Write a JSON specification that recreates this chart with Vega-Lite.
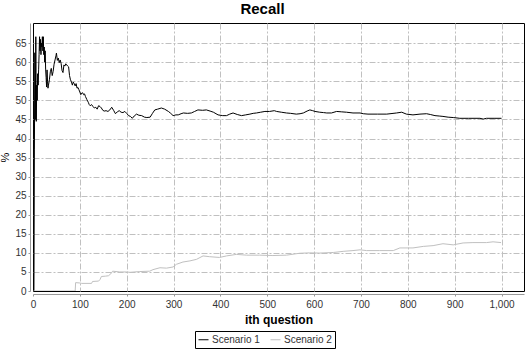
{
  "$schema": "https://vega.github.io/schema/vega-lite/v6.json",
  "autosize": "none",
  "width": 491,
  "height": 268,
  "padding": {"left": 33, "top": 23, "right": 2, "bottom": 59},
  "background": "white",
  "config": {
    "font": "Liberation Sans",
    "view": {"stroke": "black", "strokeWidth": 1},
    "axis": {
      "grid": true,
      "gridColor": "#c0c0c0",
      "gridDash": [6, 2, 2, 2],
      "gridWidth": 1,
      "domainColor": "#999999",
      "tickColor": "#999999",
      "tickSize": 2,
      "labelFontSize": 10,
      "labelColor": "#333333",
      "labelFont": "Liberation Sans",
      "titleFont": "Liberation Sans",
      "titleColor": "black"
    }
  },
  "title": {
    "text": "Recall",
    "fontSize": 15,
    "fontWeight": "bold",
    "font": "Liberation Sans",
    "anchor": "middle",
    "dx": -16,
    "offset": 6,
    "color": "black"
  },
  "data": {
    "values": [
      {"q": 1, "recall": 0, "scenario": "Scenario 1"},
      {"q": 2, "recall": 0, "scenario": "Scenario 1"},
      {"q": 3, "recall": 37, "scenario": "Scenario 1"},
      {"q": 4, "recall": 62.5, "scenario": "Scenario 1"},
      {"q": 5, "recall": 45, "scenario": "Scenario 1"},
      {"q": 6, "recall": 66.7, "scenario": "Scenario 1"},
      {"q": 7, "recall": 44.5, "scenario": "Scenario 1"},
      {"q": 8, "recall": 54, "scenario": "Scenario 1"},
      {"q": 9, "recall": 50, "scenario": "Scenario 1"},
      {"q": 10, "recall": 57, "scenario": "Scenario 1"},
      {"q": 11, "recall": 54, "scenario": "Scenario 1"},
      {"q": 12, "recall": 58, "scenario": "Scenario 1"},
      {"q": 13, "recall": 62, "scenario": "Scenario 1"},
      {"q": 14, "recall": 66.7, "scenario": "Scenario 1"},
      {"q": 15, "recall": 63, "scenario": "Scenario 1"},
      {"q": 16, "recall": 66, "scenario": "Scenario 1"},
      {"q": 17, "recall": 62, "scenario": "Scenario 1"},
      {"q": 18, "recall": 65, "scenario": "Scenario 1"},
      {"q": 19, "recall": 64, "scenario": "Scenario 1"},
      {"q": 20, "recall": 66.7, "scenario": "Scenario 1"},
      {"q": 21, "recall": 63, "scenario": "Scenario 1"},
      {"q": 22, "recall": 66.7, "scenario": "Scenario 1"},
      {"q": 23, "recall": 62, "scenario": "Scenario 1"},
      {"q": 24, "recall": 64, "scenario": "Scenario 1"},
      {"q": 25, "recall": 60, "scenario": "Scenario 1"},
      {"q": 26, "recall": 63, "scenario": "Scenario 1"},
      {"q": 27, "recall": 58, "scenario": "Scenario 1"},
      {"q": 28, "recall": 56, "scenario": "Scenario 1"},
      {"q": 29, "recall": 53.5, "scenario": "Scenario 1"},
      {"q": 30, "recall": 58, "scenario": "Scenario 1"},
      {"q": 31, "recall": 55, "scenario": "Scenario 1"},
      {"q": 32, "recall": 53.2, "scenario": "Scenario 1"},
      {"q": 33, "recall": 54, "scenario": "Scenario 1"},
      {"q": 35, "recall": 55.4, "scenario": "Scenario 1"},
      {"q": 37, "recall": 57.5, "scenario": "Scenario 1"},
      {"q": 39, "recall": 58.4, "scenario": "Scenario 1"},
      {"q": 41, "recall": 56.5, "scenario": "Scenario 1"},
      {"q": 43, "recall": 57.6, "scenario": "Scenario 1"},
      {"q": 45, "recall": 59.5, "scenario": "Scenario 1"},
      {"q": 47, "recall": 60.6, "scenario": "Scenario 1"},
      {"q": 49, "recall": 61.7, "scenario": "Scenario 1"},
      {"q": 50, "recall": 62.4, "scenario": "Scenario 1"},
      {"q": 52, "recall": 60.5, "scenario": "Scenario 1"},
      {"q": 54, "recall": 61.1, "scenario": "Scenario 1"},
      {"q": 56, "recall": 59.9, "scenario": "Scenario 1"},
      {"q": 58, "recall": 60.6, "scenario": "Scenario 1"},
      {"q": 60, "recall": 59.7, "scenario": "Scenario 1"},
      {"q": 62, "recall": 57.8, "scenario": "Scenario 1"},
      {"q": 64, "recall": 57.3, "scenario": "Scenario 1"},
      {"q": 66, "recall": 59.3, "scenario": "Scenario 1"},
      {"q": 68, "recall": 59.0, "scenario": "Scenario 1"},
      {"q": 70, "recall": 59.6, "scenario": "Scenario 1"},
      {"q": 72, "recall": 59.3, "scenario": "Scenario 1"},
      {"q": 74, "recall": 59.0, "scenario": "Scenario 1"},
      {"q": 76, "recall": 58.8, "scenario": "Scenario 1"},
      {"q": 78, "recall": 56.5, "scenario": "Scenario 1"},
      {"q": 80, "recall": 55.4, "scenario": "Scenario 1"},
      {"q": 82, "recall": 54.9, "scenario": "Scenario 1"},
      {"q": 84, "recall": 54.0, "scenario": "Scenario 1"},
      {"q": 86, "recall": 54.8, "scenario": "Scenario 1"},
      {"q": 88, "recall": 54.4, "scenario": "Scenario 1"},
      {"q": 90, "recall": 53.8, "scenario": "Scenario 1"},
      {"q": 92, "recall": 54.4, "scenario": "Scenario 1"},
      {"q": 94, "recall": 53.2, "scenario": "Scenario 1"},
      {"q": 96, "recall": 53.4, "scenario": "Scenario 1"},
      {"q": 98, "recall": 52.8, "scenario": "Scenario 1"},
      {"q": 100, "recall": 52.2, "scenario": "Scenario 1"},
      {"q": 102, "recall": 51.5, "scenario": "Scenario 1"},
      {"q": 104, "recall": 51.9, "scenario": "Scenario 1"},
      {"q": 106, "recall": 52.0, "scenario": "Scenario 1"},
      {"q": 108, "recall": 51.5, "scenario": "Scenario 1"},
      {"q": 110, "recall": 51.7, "scenario": "Scenario 1"},
      {"q": 112, "recall": 51.0, "scenario": "Scenario 1"},
      {"q": 115, "recall": 50.2, "scenario": "Scenario 1"},
      {"q": 118, "recall": 49.5, "scenario": "Scenario 1"},
      {"q": 120, "recall": 48.9, "scenario": "Scenario 1"},
      {"q": 122, "recall": 48.6, "scenario": "Scenario 1"},
      {"q": 125, "recall": 48.9, "scenario": "Scenario 1"},
      {"q": 128, "recall": 48.4, "scenario": "Scenario 1"},
      {"q": 131, "recall": 48.0, "scenario": "Scenario 1"},
      {"q": 134, "recall": 48.2, "scenario": "Scenario 1"},
      {"q": 137, "recall": 47.7, "scenario": "Scenario 1"},
      {"q": 140, "recall": 48.6, "scenario": "Scenario 1"},
      {"q": 143, "recall": 48.4, "scenario": "Scenario 1"},
      {"q": 146, "recall": 48.0, "scenario": "Scenario 1"},
      {"q": 149, "recall": 47.4, "scenario": "Scenario 1"},
      {"q": 152, "recall": 47.2, "scenario": "Scenario 1"},
      {"q": 156, "recall": 47.3, "scenario": "Scenario 1"},
      {"q": 160, "recall": 47.1, "scenario": "Scenario 1"},
      {"q": 164, "recall": 47.5, "scenario": "Scenario 1"},
      {"q": 168, "recall": 48.2, "scenario": "Scenario 1"},
      {"q": 172, "recall": 47.4, "scenario": "Scenario 1"},
      {"q": 176, "recall": 46.5, "scenario": "Scenario 1"},
      {"q": 180, "recall": 47.0, "scenario": "Scenario 1"},
      {"q": 184, "recall": 47.3, "scenario": "Scenario 1"},
      {"q": 188, "recall": 46.9, "scenario": "Scenario 1"},
      {"q": 192, "recall": 46.8, "scenario": "Scenario 1"},
      {"q": 196, "recall": 47.1, "scenario": "Scenario 1"},
      {"q": 200, "recall": 46.6, "scenario": "Scenario 1"},
      {"q": 204, "recall": 46.0, "scenario": "Scenario 1"},
      {"q": 208, "recall": 45.8, "scenario": "Scenario 1"},
      {"q": 212, "recall": 45.3, "scenario": "Scenario 1"},
      {"q": 216, "recall": 45.9, "scenario": "Scenario 1"},
      {"q": 221, "recall": 46.4, "scenario": "Scenario 1"},
      {"q": 226, "recall": 46.1, "scenario": "Scenario 1"},
      {"q": 232, "recall": 46.0, "scenario": "Scenario 1"},
      {"q": 238, "recall": 45.6, "scenario": "Scenario 1"},
      {"q": 243, "recall": 45.5, "scenario": "Scenario 1"},
      {"q": 250, "recall": 45.6, "scenario": "Scenario 1"},
      {"q": 255, "recall": 46.6, "scenario": "Scenario 1"},
      {"q": 260, "recall": 47.5, "scenario": "Scenario 1"},
      {"q": 266, "recall": 47.7, "scenario": "Scenario 1"},
      {"q": 274, "recall": 48.0, "scenario": "Scenario 1"},
      {"q": 281, "recall": 47.7, "scenario": "Scenario 1"},
      {"q": 289, "recall": 47.1, "scenario": "Scenario 1"},
      {"q": 294, "recall": 46.6, "scenario": "Scenario 1"},
      {"q": 299, "recall": 46.0, "scenario": "Scenario 1"},
      {"q": 305, "recall": 46.2, "scenario": "Scenario 1"},
      {"q": 310, "recall": 46.2, "scenario": "Scenario 1"},
      {"q": 316, "recall": 46.5, "scenario": "Scenario 1"},
      {"q": 321, "recall": 46.7, "scenario": "Scenario 1"},
      {"q": 330, "recall": 46.6, "scenario": "Scenario 1"},
      {"q": 338, "recall": 46.7, "scenario": "Scenario 1"},
      {"q": 345, "recall": 47.1, "scenario": "Scenario 1"},
      {"q": 352, "recall": 47.5, "scenario": "Scenario 1"},
      {"q": 362, "recall": 47.4, "scenario": "Scenario 1"},
      {"q": 370, "recall": 47.5, "scenario": "Scenario 1"},
      {"q": 378, "recall": 47.2, "scenario": "Scenario 1"},
      {"q": 385, "recall": 46.9, "scenario": "Scenario 1"},
      {"q": 395, "recall": 46.2, "scenario": "Scenario 1"},
      {"q": 405, "recall": 46.0, "scenario": "Scenario 1"},
      {"q": 413, "recall": 46.0, "scenario": "Scenario 1"},
      {"q": 420, "recall": 46.4, "scenario": "Scenario 1"},
      {"q": 427, "recall": 46.7, "scenario": "Scenario 1"},
      {"q": 436, "recall": 46.3, "scenario": "Scenario 1"},
      {"q": 445, "recall": 46.0, "scenario": "Scenario 1"},
      {"q": 454, "recall": 46.2, "scenario": "Scenario 1"},
      {"q": 463, "recall": 46.4, "scenario": "Scenario 1"},
      {"q": 470, "recall": 46.6, "scenario": "Scenario 1"},
      {"q": 477, "recall": 46.7, "scenario": "Scenario 1"},
      {"q": 486, "recall": 46.9, "scenario": "Scenario 1"},
      {"q": 495, "recall": 47.1, "scenario": "Scenario 1"},
      {"q": 505, "recall": 47.1, "scenario": "Scenario 1"},
      {"q": 515, "recall": 47.3, "scenario": "Scenario 1"},
      {"q": 520, "recall": 47.1, "scenario": "Scenario 1"},
      {"q": 530, "recall": 46.9, "scenario": "Scenario 1"},
      {"q": 541, "recall": 46.7, "scenario": "Scenario 1"},
      {"q": 550, "recall": 46.6, "scenario": "Scenario 1"},
      {"q": 562, "recall": 46.4, "scenario": "Scenario 1"},
      {"q": 570, "recall": 46.5, "scenario": "Scenario 1"},
      {"q": 577, "recall": 46.7, "scenario": "Scenario 1"},
      {"q": 585, "recall": 47.2, "scenario": "Scenario 1"},
      {"q": 591, "recall": 47.5, "scenario": "Scenario 1"},
      {"q": 597, "recall": 47.3, "scenario": "Scenario 1"},
      {"q": 602, "recall": 47.1, "scenario": "Scenario 1"},
      {"q": 612, "recall": 46.9, "scenario": "Scenario 1"},
      {"q": 620, "recall": 46.8, "scenario": "Scenario 1"},
      {"q": 627, "recall": 46.7, "scenario": "Scenario 1"},
      {"q": 637, "recall": 46.7, "scenario": "Scenario 1"},
      {"q": 648, "recall": 47.1, "scenario": "Scenario 1"},
      {"q": 658, "recall": 47.0, "scenario": "Scenario 1"},
      {"q": 669, "recall": 46.9, "scenario": "Scenario 1"},
      {"q": 683, "recall": 46.7, "scenario": "Scenario 1"},
      {"q": 698, "recall": 46.7, "scenario": "Scenario 1"},
      {"q": 705, "recall": 46.5, "scenario": "Scenario 1"},
      {"q": 715, "recall": 46.4, "scenario": "Scenario 1"},
      {"q": 735, "recall": 46.4, "scenario": "Scenario 1"},
      {"q": 755, "recall": 46.4, "scenario": "Scenario 1"},
      {"q": 776, "recall": 46.7, "scenario": "Scenario 1"},
      {"q": 787, "recall": 46.9, "scenario": "Scenario 1"},
      {"q": 797, "recall": 46.4, "scenario": "Scenario 1"},
      {"q": 811, "recall": 46.2, "scenario": "Scenario 1"},
      {"q": 826, "recall": 46.4, "scenario": "Scenario 1"},
      {"q": 840, "recall": 46.5, "scenario": "Scenario 1"},
      {"q": 848, "recall": 46.3, "scenario": "Scenario 1"},
      {"q": 858, "recall": 46.0, "scenario": "Scenario 1"},
      {"q": 867, "recall": 45.9, "scenario": "Scenario 1"},
      {"q": 875, "recall": 45.8, "scenario": "Scenario 1"},
      {"q": 886, "recall": 45.6, "scenario": "Scenario 1"},
      {"q": 897, "recall": 45.5, "scenario": "Scenario 1"},
      {"q": 911, "recall": 45.3, "scenario": "Scenario 1"},
      {"q": 930, "recall": 45.3, "scenario": "Scenario 1"},
      {"q": 954, "recall": 45.3, "scenario": "Scenario 1"},
      {"q": 961, "recall": 45.1, "scenario": "Scenario 1"},
      {"q": 968, "recall": 45.3, "scenario": "Scenario 1"},
      {"q": 986, "recall": 45.3, "scenario": "Scenario 1"},
      {"q": 1000, "recall": 45.3, "scenario": "Scenario 1"},
      {"q": 1, "recall": 0, "scenario": "Scenario 2"},
      {"q": 90, "recall": 0, "scenario": "Scenario 2"},
      {"q": 91, "recall": 2.2, "scenario": "Scenario 2"},
      {"q": 100, "recall": 2.1, "scenario": "Scenario 2"},
      {"q": 104, "recall": 2.0, "scenario": "Scenario 2"},
      {"q": 125, "recall": 2.0, "scenario": "Scenario 2"},
      {"q": 127, "recall": 2.5, "scenario": "Scenario 2"},
      {"q": 140, "recall": 2.6, "scenario": "Scenario 2"},
      {"q": 143, "recall": 3.0, "scenario": "Scenario 2"},
      {"q": 146, "recall": 3.8, "scenario": "Scenario 2"},
      {"q": 155, "recall": 3.9, "scenario": "Scenario 2"},
      {"q": 161, "recall": 4.0, "scenario": "Scenario 2"},
      {"q": 166, "recall": 4.5, "scenario": "Scenario 2"},
      {"q": 170, "recall": 5.2, "scenario": "Scenario 2"},
      {"q": 185, "recall": 5.0, "scenario": "Scenario 2"},
      {"q": 200, "recall": 5.0, "scenario": "Scenario 2"},
      {"q": 207, "recall": 4.9, "scenario": "Scenario 2"},
      {"q": 228, "recall": 5.1, "scenario": "Scenario 2"},
      {"q": 249, "recall": 5.2, "scenario": "Scenario 2"},
      {"q": 256, "recall": 5.6, "scenario": "Scenario 2"},
      {"q": 271, "recall": 6.1, "scenario": "Scenario 2"},
      {"q": 285, "recall": 6.0, "scenario": "Scenario 2"},
      {"q": 299, "recall": 6.3, "scenario": "Scenario 2"},
      {"q": 306, "recall": 7.0, "scenario": "Scenario 2"},
      {"q": 320, "recall": 7.6, "scenario": "Scenario 2"},
      {"q": 335, "recall": 7.9, "scenario": "Scenario 2"},
      {"q": 349, "recall": 8.3, "scenario": "Scenario 2"},
      {"q": 363, "recall": 9.2, "scenario": "Scenario 2"},
      {"q": 377, "recall": 9.0, "scenario": "Scenario 2"},
      {"q": 398, "recall": 8.8, "scenario": "Scenario 2"},
      {"q": 413, "recall": 9.2, "scenario": "Scenario 2"},
      {"q": 434, "recall": 9.6, "scenario": "Scenario 2"},
      {"q": 456, "recall": 9.4, "scenario": "Scenario 2"},
      {"q": 484, "recall": 9.4, "scenario": "Scenario 2"},
      {"q": 512, "recall": 9.3, "scenario": "Scenario 2"},
      {"q": 541, "recall": 9.4, "scenario": "Scenario 2"},
      {"q": 569, "recall": 9.9, "scenario": "Scenario 2"},
      {"q": 590, "recall": 10.0, "scenario": "Scenario 2"},
      {"q": 612, "recall": 9.95, "scenario": "Scenario 2"},
      {"q": 641, "recall": 10.1, "scenario": "Scenario 2"},
      {"q": 662, "recall": 10.4, "scenario": "Scenario 2"},
      {"q": 683, "recall": 10.6, "scenario": "Scenario 2"},
      {"q": 698, "recall": 10.8, "scenario": "Scenario 2"},
      {"q": 712, "recall": 10.6, "scenario": "Scenario 2"},
      {"q": 740, "recall": 10.6, "scenario": "Scenario 2"},
      {"q": 769, "recall": 10.6, "scenario": "Scenario 2"},
      {"q": 783, "recall": 11.3, "scenario": "Scenario 2"},
      {"q": 811, "recall": 11.3, "scenario": "Scenario 2"},
      {"q": 833, "recall": 11.7, "scenario": "Scenario 2"},
      {"q": 854, "recall": 11.9, "scenario": "Scenario 2"},
      {"q": 875, "recall": 12.4, "scenario": "Scenario 2"},
      {"q": 897, "recall": 12.1, "scenario": "Scenario 2"},
      {"q": 918, "recall": 12.6, "scenario": "Scenario 2"},
      {"q": 939, "recall": 12.7, "scenario": "Scenario 2"},
      {"q": 968, "recall": 12.7, "scenario": "Scenario 2"},
      {"q": 982, "recall": 12.9, "scenario": "Scenario 2"},
      {"q": 999, "recall": 12.7, "scenario": "Scenario 2"}
    ]
  },
  "mark": {"type": "line", "strokeWidth": 1, "clip": true},
  "encoding": {
    "x": {
      "field": "q",
      "type": "quantitative",
      "scale": {"domain": [0, 1048], "nice": false, "zero": false},
      "axis": {
        "title": "ith question",
        "titleFontSize": 12,
        "titleFontWeight": "bold",
        "titlePadding": 5,
        "values": [0, 100, 200, 300, 400, 500, 600, 700, 800, 900, 1000],
        "format": ",d",
        "offset": 3,
        "labelPadding": 3,
        "labelFlush": false,
        "gridOpacity": {"condition": {"test": "datum.value === 0", "value": 0}, "value": 1}
      }
    },
    "y": {
      "field": "recall",
      "type": "quantitative",
      "scale": {"domain": [0, 70.3], "nice": false},
      "axis": {
        "title": "%",
        "titleFontSize": 11,
        "titleFontWeight": "normal",
        "titlePadding": 4,
        "values": [0, 5, 10, 15, 20, 25, 30, 35, 40, 45, 50, 55, 60, 65],
        "offset": 3,
        "labelPadding": 2,
        "labelFlush": false,
        "gridOpacity": {"condition": {"test": "datum.value === 0", "value": 0}, "value": 1}
      }
    },
    "color": {
      "field": "scenario",
      "type": "nominal",
      "scale": {"domain": ["Scenario 1", "Scenario 2"], "range": ["#000000", "#c0c0c0"]},
      "legend": {
        "title": null,
        "orient": "none",
        "legendX": 162,
        "legendY": 308,
        "direction": "horizontal",
        "strokeColor": "black",
        "fillColor": "white",
        "padding": 3,
        "symbolType": "stroke",
        "symbolSize": 100,
        "symbolStrokeWidth": 1,
        "labelFontSize": 10,
        "labelColor": "#333333",
        "labelOffset": 3,
        "columnPadding": 8
      }
    }
  }
}
